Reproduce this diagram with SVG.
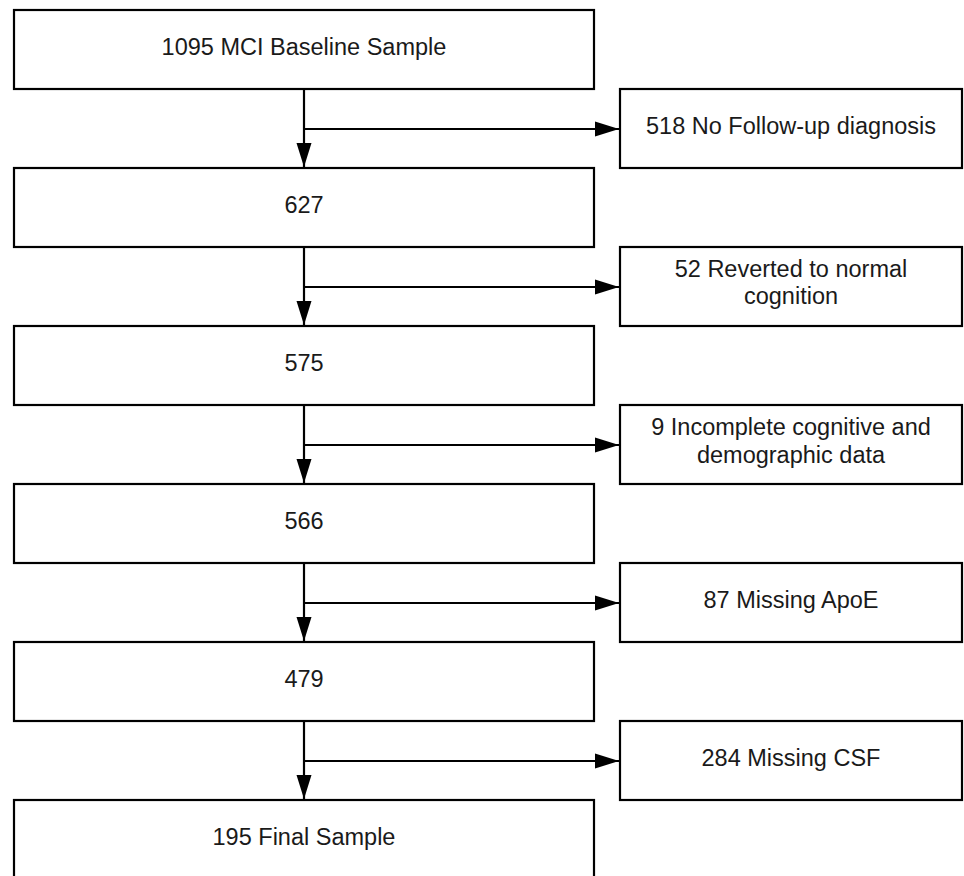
<svg xmlns="http://www.w3.org/2000/svg" width="964" height="876" viewBox="0 0 964 876">
<defs>
<marker id="ah" markerUnits="userSpaceOnUse" markerWidth="25" markerHeight="16" refX="24" refY="8" orient="auto">
<path d="M0,0.5 L24,8 L0,15.5 Z" fill="#000"/>
</marker>
<style>
.box{fill:#fff;stroke:#000;stroke-width:2.2}
.t{font-family:"Liberation Sans",Arial,sans-serif;font-size:23.5px;fill:#1a1a1a;text-anchor:middle}
.c{stroke:#000;stroke-width:2.2;fill:none;marker-end:url(#ah)}
</style>
</defs>
<rect width="964" height="876" fill="#fff"/>
<g id="connectors">
<line class="c" x1="304" y1="89" x2="304" y2="167"/>
<line class="c" x1="304" y1="129" x2="619" y2="129"/>
<line class="c" x1="304" y1="247" x2="304" y2="325"/>
<line class="c" x1="304" y1="287" x2="619" y2="287"/>
<line class="c" x1="304" y1="405" x2="304" y2="483"/>
<line class="c" x1="304" y1="445" x2="619" y2="445"/>
<line class="c" x1="304" y1="563" x2="304" y2="641"/>
<line class="c" x1="304" y1="603" x2="619" y2="603"/>
<line class="c" x1="304" y1="721" x2="304" y2="799"/>
<line class="c" x1="304" y1="761" x2="619" y2="761"/>
</g>
<g id="n1095"><rect class="box" x="14" y="10" width="580" height="79"/><text class="t" x="304" y="55">1095 MCI Baseline Sample</text></g>
<g id="n518"><rect class="box" x="620" y="89" width="342" height="79"/><text class="t" x="791" y="134">518 No Follow-up diagnosis</text></g>
<g id="n627"><rect class="box" x="14" y="168" width="580" height="79"/><text class="t" x="304" y="213">627</text></g>
<g id="n52"><rect class="box" x="620" y="247" width="342" height="79"/><text class="t" x="791" y="277">52 Reverted to normal</text><text class="t" x="791" y="304">cognition</text></g>
<g id="n575"><rect class="box" x="14" y="326" width="580" height="79"/><text class="t" x="304" y="371">575</text></g>
<g id="n9"><rect class="box" x="620" y="405" width="342" height="79"/><text class="t" x="791" y="435">9 Incomplete cognitive and</text><text class="t" x="791" y="463">demographic data</text></g>
<g id="n566"><rect class="box" x="14" y="484" width="580" height="79"/><text class="t" x="304" y="529">566</text></g>
<g id="n87"><rect class="box" x="620" y="563" width="342" height="79"/><text class="t" x="791" y="608">87 Missing ApoE</text></g>
<g id="n479"><rect class="box" x="14" y="642" width="580" height="79"/><text class="t" x="304" y="687">479</text></g>
<g id="n284"><rect class="box" x="620" y="721" width="342" height="79"/><text class="t" x="791" y="766">284 Missing CSF</text></g>
<g id="n195"><rect class="box" x="14" y="800" width="580" height="100"/><text class="t" x="304" y="845">195 Final Sample</text></g>
</svg>
